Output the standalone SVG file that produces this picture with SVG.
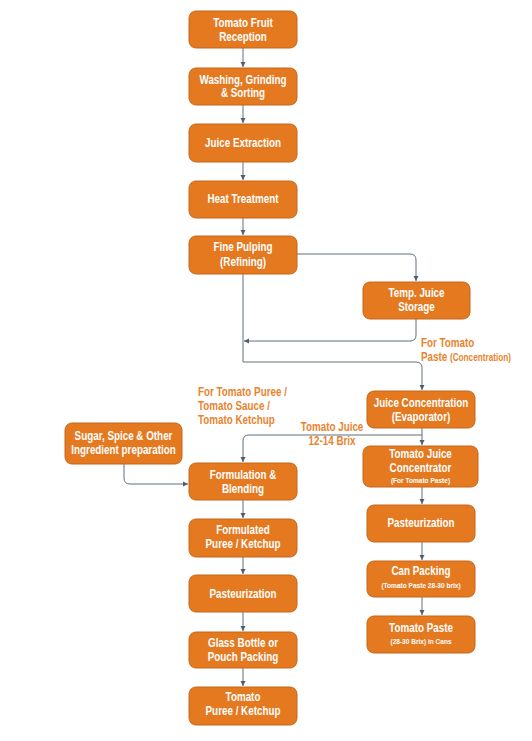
<svg xmlns="http://www.w3.org/2000/svg" width="532" height="741" viewBox="0 0 532 741">
<style>
.box{fill:#E5791F;stroke:#C4661B;stroke-width:1}
.t{font-family:"Liberation Sans",Arial,sans-serif;font-weight:bold;font-size:12px;fill:#FFFFFF;text-anchor:middle}
.s{font-size:8px}
.lbl{font-family:"Liberation Sans",Arial,sans-serif;font-weight:bold;font-size:12px;fill:#E8832E}
.c{fill:none;stroke:#5E6E7E;stroke-width:1}
</style>
<defs>
<marker id="ah" markerUnits="userSpaceOnUse" markerWidth="6" markerHeight="6" refX="5" refY="3" orient="auto">
<path d="M0,0.5 L5,3 L0,5.5 Z" fill="#4E5E6E"/>
</marker>
</defs>
<rect width="532" height="741" fill="#FFFFFF"/>
<g id="connectors">
<path class="c" marker-end="url(#ah)" d="M243 48 V67"/>
<path class="c" marker-end="url(#ah)" d="M243 105 V123"/>
<path class="c" marker-end="url(#ah)" d="M243 162 V180"/>
<path class="c" marker-end="url(#ah)" d="M243 218 V235"/>
<path class="c" marker-end="url(#ah)" d="M297 254 H410 Q416 254 416 260 V281"/>
<path class="c" marker-end="url(#ah)" d="M416 319 V335 Q416 341 410 341 H244"/>
<path class="c" marker-end="url(#ah)" d="M243 274 V362 H416 Q422 362 422 368 V390"/>
<path class="c" marker-end="url(#ah)" d="M422 428 V445"/>
<path class="c" marker-end="url(#ah)" d="M422 435 H249 Q243 435 243 441 V462"/>
<path class="c" marker-end="url(#ah)" d="M124 464 V478 Q124 484 130 484 H188"/>
<path class="c" marker-end="url(#ah)" d="M243 500 V518"/>
<path class="c" marker-end="url(#ah)" d="M243 557 V574"/>
<path class="c" marker-end="url(#ah)" d="M243 612 V631"/>
<path class="c" marker-end="url(#ah)" d="M243 668 V686"/>
<path class="c" marker-end="url(#ah)" d="M422 487 V504"/>
<path class="c" marker-end="url(#ah)" d="M422 542 V560"/>
<path class="c" marker-end="url(#ah)" d="M422 597 V615"/>
</g>
<g id="labels">
<g transform="translate(421,0) scale(0.82,1)"><text class="lbl" x="0" y="347">For Tomato</text><text class="lbl" x="0" y="361">Paste <tspan font-size="10px">(Concentration)</tspan></text></g>
<g transform="translate(198,0) scale(0.82,1)"><text class="lbl" x="0" y="396">For Tomato Puree /</text><text class="lbl" x="0" y="410">Tomato Sauce /</text><text class="lbl" x="0" y="424">Tomato Ketchup</text></g>
<g transform="translate(332,0) scale(0.82,1)"><text class="lbl" x="0" y="431" text-anchor="middle">Tomato Juice</text><text class="lbl" x="0" y="445" text-anchor="middle">12-14 Brix</text></g>
</g>
<g id="n1"><rect class="box" x="189" y="11" width="108" height="37" rx="7"/><g transform="translate(243,0) scale(0.82,1)"><text class="t" x="0" y="27.5">Tomato Fruit</text><text class="t" x="0" y="41.5">Reception</text></g></g>
<g id="n2"><rect class="box" x="189" y="68" width="108" height="37" rx="7"/><g transform="translate(243,0) scale(0.82,1)"><text class="t" x="0" y="84.5">Washing, Grinding</text><text class="t" x="0" y="97.5">&amp; Sorting</text></g></g>
<g id="n3"><rect class="box" x="189" y="124" width="108" height="38" rx="7"/><g transform="translate(243,0) scale(0.82,1)"><text class="t" x="0" y="147">Juice Extraction</text></g></g>
<g id="n4"><rect class="box" x="189" y="181" width="108" height="37" rx="7"/><g transform="translate(243,0) scale(0.82,1)"><text class="t" x="0" y="203.5">Heat Treatment</text></g></g>
<g id="n5"><rect class="box" x="189" y="236" width="108" height="38" rx="7"/><g transform="translate(243,0) scale(0.82,1)"><text class="t" x="0" y="251.5">Fine Pulping</text><text class="t" x="0" y="266">(Refining)</text></g></g>
<g id="n6"><rect class="box" x="363" y="282" width="107" height="37" rx="7"/><g transform="translate(416.5,0) scale(0.82,1)"><text class="t" x="0" y="297.5">Temp. Juice</text><text class="t" x="0" y="311.5">Storage</text></g></g>
<g id="n7"><rect class="box" x="367" y="391" width="108" height="37" rx="7"/><g transform="translate(421,0) scale(0.82,1)"><text class="t" x="0" y="407.5">Juice Concentration</text><text class="t" x="0" y="421.5">(Evaporator)</text></g></g>
<g id="n8"><rect class="box" x="363" y="446" width="115" height="41" rx="7"/><g transform="translate(420.5,0) scale(0.82,1)"><text class="t" x="0" y="458">Tomato Juice</text><text class="t" x="0" y="472">Concentrator</text><text class="t s" x="0" y="483">(For Tomato Paste)</text></g></g>
<g id="n9"><rect class="box" x="65" y="423" width="117" height="41" rx="7"/><g transform="translate(123.5,0) scale(0.82,1)"><text class="t" x="0" y="440.5">Sugar, Spice &amp; Other</text><text class="t" x="0" y="454.5">Ingredient preparation</text></g></g>
<g id="n10"><rect class="box" x="189" y="463" width="108" height="37" rx="7"/><g transform="translate(243,0) scale(0.82,1)"><text class="t" x="0" y="479.5">Formulation &amp;</text><text class="t" x="0" y="493">Blending</text></g></g>
<g id="n11"><rect class="box" x="189" y="519" width="108" height="38" rx="7"/><g transform="translate(243,0) scale(0.82,1)"><text class="t" x="0" y="534.5">Formulated</text><text class="t" x="0" y="548">Puree / Ketchup</text></g></g>
<g id="n12"><rect class="box" x="189" y="575" width="108" height="37" rx="7"/><g transform="translate(243,0) scale(0.82,1)"><text class="t" x="0" y="598">Pasteurization</text></g></g>
<g id="n13"><rect class="box" x="189" y="632" width="108" height="36" rx="7"/><g transform="translate(243,0) scale(0.82,1)"><text class="t" x="0" y="647.5">Glass Bottle or</text><text class="t" x="0" y="661">Pouch Packing</text></g></g>
<g id="n14"><rect class="box" x="189" y="687" width="108" height="38" rx="7"/><g transform="translate(243,0) scale(0.82,1)"><text class="t" x="0" y="701.5">Tomato</text><text class="t" x="0" y="715.5">Puree / Ketchup</text></g></g>
<g id="n15"><rect class="box" x="367" y="505" width="108" height="37" rx="7"/><g transform="translate(421,0) scale(0.82,1)"><text class="t" x="0" y="527.5">Pasteurization</text></g></g>
<g id="n16"><rect class="box" x="367" y="561" width="108" height="36" rx="7"/><g transform="translate(421,0) scale(0.82,1)"><text class="t" x="0" y="575.5" font-size="13px">Can Packing</text><text class="t s" x="0" y="588">(Tomato Paste 28-30 brix)</text></g></g>
<g id="n17"><rect class="box" x="367" y="616" width="108" height="37" rx="7"/><g transform="translate(421,0) scale(0.82,1)"><text class="t" x="0" y="632" font-size="13px">Tomato Paste</text><text class="t s" x="0" y="644">(28-30 Brix) in Cans</text></g></g>
</svg>
